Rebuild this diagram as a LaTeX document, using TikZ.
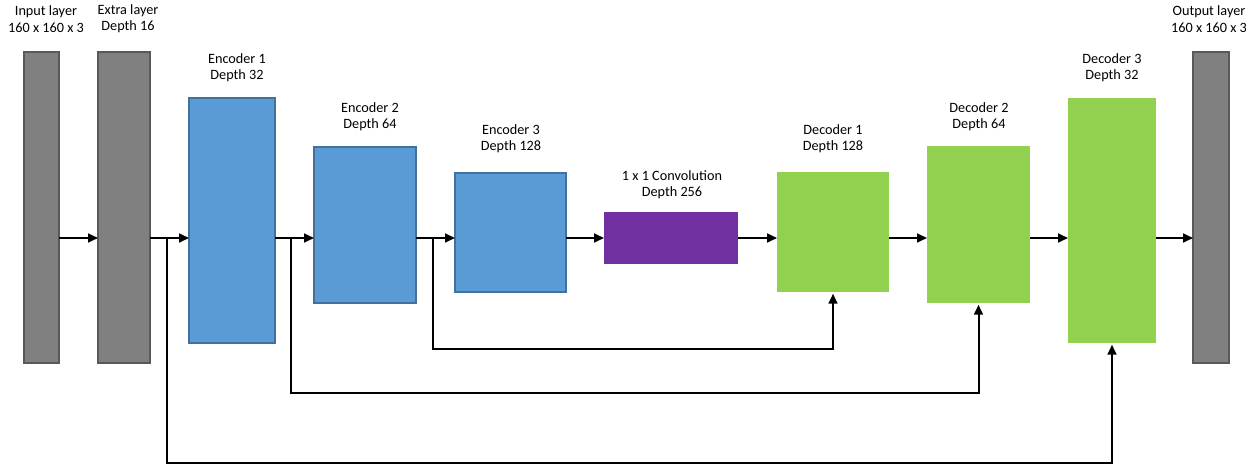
\documentclass[tikz,border=0pt]{standalone}
\usepackage{fontspec}
\setmainfont{Carlito}
\usetikzlibrary{arrows.meta,calc}
\definecolor{layergray}{HTML}{808080}
\definecolor{layeredge}{HTML}{595959}
\definecolor{encblue}{HTML}{5B9BD5}
\definecolor{encedge}{HTML}{41719C}
\definecolor{decgreen}{HTML}{92D050}
\definecolor{convpurple}{HTML}{7030A0}
\tikzset{
  box/.style={rectangle, inner sep=0pt, outer sep=0pt},
  iolayer/.style={box, fill=layergray, draw=layeredge, line width=1.2pt},
  enclayer/.style={box, fill=encblue, draw=encedge, line width=0.9pt},
  declayer/.style={box, fill=decgreen},
  convlayer/.style={box, fill=convpurple},
  lbl/.style={align=center, font=\fontsize{8.1}{9.3}\selectfont, inner sep=0pt},
  flow/.style={-{Triangle[length=5.6pt,width=5pt]}, line width=1.15pt},
  skip/.style={-{Triangle[length=5.6pt,width=5pt]}, line width=1.15pt, shorten >=1pt}
}

\begin{document}
\begin{tikzpicture}[x=0.02cm, y=-0.02cm]
          \useasboundingbox (0,0) rectangle (1251,473);
          % layers
          \node[iolayer, minimum width=35*0.02cm, minimum height=311*0.02cm] (in) at (41.5,207.5) {};
          \node[iolayer, minimum width=52*0.02cm, minimum height=311*0.02cm] (ext) at (124,207.5) {};
          \node[enclayer, minimum width=86*0.02cm, minimum height=245*0.02cm] (enc1) at (232,220.5) {};
          \node[enclayer, minimum width=102*0.02cm, minimum height=156*0.02cm] (enc2) at (365,225) {};
          \node[enclayer, minimum width=111*0.02cm, minimum height=119*0.02cm] (enc3) at (510.5,232.5) {};
          \node[convlayer, minimum width=134*0.02cm, minimum height=52*0.02cm] (conv) at (671,238) {};
          \node[declayer, minimum width=112*0.02cm, minimum height=120*0.02cm] (dec1) at (833,232) {};
          \node[declayer, minimum width=103*0.02cm, minimum height=157*0.02cm] (dec2) at (978.5,224.5) {};
          \node[declayer, minimum width=88*0.02cm, minimum height=245*0.02cm] (dec3) at (1112,220.5) {};
          \node[iolayer, minimum width=36*0.02cm, minimum height=311*0.02cm] (out) at (1211,207.5) {};
          % labels
          \node[lbl] (inlbl) at (46,19) {Input layer\\160 x 160 x 3};
          \node[lbl] (extlbl) at (128,19) {Extra layer\\Depth 16};
          \node[lbl] (enc1lbl) at (237,68) {Encoder 1\\Depth 32};
          \node[lbl] (enc2lbl) at (370,117) {Encoder 2\\Depth 64};
          \node[lbl] (enc3lbl) at (511,139) {Encoder 3\\Depth 128};
          \node[lbl] (convlbl) at (672,185) {1 x 1 Convolution\\Depth 256};
          \node[lbl] (dec1lbl) at (833,139) {Decoder 1\\Depth 128};
          \node[lbl] (dec2lbl) at (979,117) {Decoder 2\\Depth 64};
          \node[lbl] (dec3lbl) at (1112,68) {Decoder 3\\Depth 32};
          \node[lbl] (outlbl) at (1209,19) {Output layer\\160 x 160 x 3};
          % main path
          \draw[flow] (in.east |- conv) -- (ext.west |- conv);
          \draw[flow] (ext.east |- conv) -- (enc1.west |- conv);
          \draw[flow] (enc1.east |- conv) -- (enc2.west |- conv);
          \draw[flow] (enc2.east |- conv) -- (enc3.west |- conv);
          \draw[flow] (enc3.east |- conv) -- (conv.west);
          \draw[flow] (conv.east) -- (dec1.west |- conv);
          \draw[flow] (dec1.east |- conv) -- (dec2.west |- conv);
          \draw[flow] (dec2.east |- conv) -- (dec3.west |- conv);
          \draw[flow] (dec3.east |- conv) -- (out.west |- conv);
          % skip connections
          \coordinate (br1) at (167,238);
          \coordinate (br2) at (291,238);
          \coordinate (br3) at (433,238);
          \draw[skip] (br3) -- (433,349) -| (dec1.south);
          \draw[skip] (br2) -- (291,393) -| (dec2.south);
          \draw[skip] (br1) -- (167,463) -| (dec3.south);
        \end{tikzpicture}
\end{document}
